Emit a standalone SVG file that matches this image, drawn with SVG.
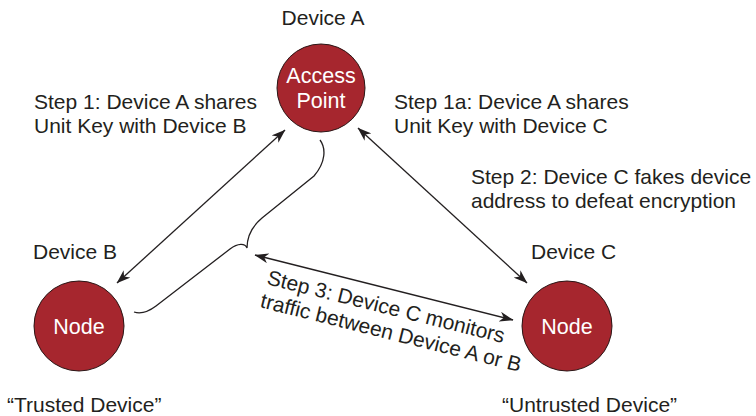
<svg xmlns="http://www.w3.org/2000/svg" width="756" height="416" viewBox="0 0 756 416">
<style>
text{font-family:"Liberation Sans",Arial,sans-serif;font-size:21px;fill:#231f20}
.w{fill:#ffffff;text-anchor:middle;font-size:21.5px}
.c{text-anchor:middle}
.node{fill:#a6262e;stroke:#2a1515;stroke-width:1}
.con{fill:none;stroke:#231f20;stroke-width:1.3}
</style>
<defs>
<marker id="ah" viewBox="0 0 14 10" refX="13.5" refY="5" markerWidth="14" markerHeight="10" orient="auto-start-reverse" markerUnits="userSpaceOnUse">
<path d="M0,0 L14,5 L0,10 L4,5 z" fill="#231f20"/>
</marker>
</defs>
<rect width="756" height="416" fill="#ffffff"/>
<g id="connectors">
<line class="con" x1="285" y1="130" x2="117" y2="283" marker-start="url(#ah)" marker-end="url(#ah)"/>
<line class="con" x1="358" y1="128" x2="527" y2="283" marker-start="url(#ah)" marker-end="url(#ah)"/>
<line class="con" x1="255" y1="255" x2="513" y2="320" marker-start="url(#ah)" marker-end="url(#ah)"/>
<path class="con" d="M320,140 C326,148 326,162 314,176 L262,218 C250,228 247,238 247,248 C245,243 238,243 230,249 L156,306 C148,312 140,314 134,312"/>
</g>
<g id="deviceA">
<text class="c" x="323" y="25">Device A</text>
<circle class="node" cx="321" cy="88" r="44"/>
<text class="w" x="321" y="83">Access</text>
<text class="w" x="321" y="108">Point</text>
</g>
<g id="deviceB">
<text x="33" y="259">Device B</text>
<circle class="node" cx="79" cy="326" r="45"/>
<text class="w" x="79" y="334">Node</text>
<text x="7" y="412">“Trusted Device”</text>
</g>
<g id="deviceC">
<text x="531" y="259">Device C</text>
<circle class="node" cx="567" cy="326" r="45"/>
<text class="w" x="567" y="334">Node</text>
<text x="502" y="412">“Untrusted Device”</text>
</g>
<g id="labels">
<text x="34" y="109">Step 1: Device A shares</text>
<text x="34" y="133">Unit Key with Device B</text>
<text x="394" y="109">Step 1a: Device A shares</text>
<text x="394" y="133">Unit Key with Device C</text>
<text x="471" y="184">Step 2: Device C fakes device</text>
<text x="471" y="208">address to defeat encryption</text>
<g transform="translate(266,284) rotate(14)">
<text x="0" y="0">Step 3: Device C monitors</text>
<text x="-1" y="24">traffic between Device A or B</text>
</g>
</g>
</svg>
